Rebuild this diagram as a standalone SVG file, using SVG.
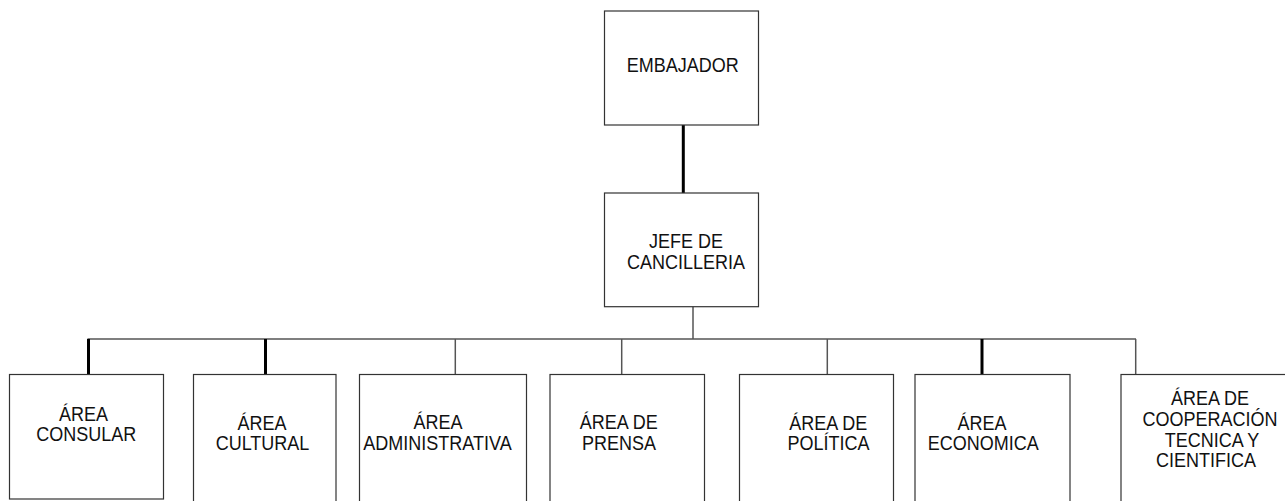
<svg xmlns="http://www.w3.org/2000/svg" width="1285" height="501" viewBox="0 0 1285 501">
<style>
.box{fill:#fff;stroke:#333;stroke-width:1.2}
.thin{stroke:#555;stroke-width:1.5;fill:none}
.thick{stroke:#000;stroke-width:3;fill:none}
text{font-family:"Liberation Sans",Arial,sans-serif;font-size:20px;fill:#111;text-anchor:middle}
</style>
<rect width="1285" height="501" fill="#fff"/>
<g id="connectors">
<line class="thick" x1="683.3" y1="125" x2="683.3" y2="193"/>
<line class="thin" x1="693" y1="301" x2="693" y2="339"/>
<line class="thin" x1="87.5" y1="339" x2="1136" y2="339"/>
<line class="thick" x1="88.5" y1="339" x2="88.5" y2="374.5"/>
<line class="thick" x1="265.5" y1="339" x2="265.5" y2="374.5"/>
<line class="thin" x1="455.3" y1="339" x2="455.3" y2="374.5"/>
<line class="thin" x1="621.7" y1="339" x2="621.7" y2="374.5"/>
<line class="thin" x1="827.3" y1="339" x2="827.3" y2="374.5"/>
<line class="thick" x1="982" y1="339" x2="982" y2="374.5"/>
<line class="thin" x1="1135.7" y1="339" x2="1135.7" y2="374.5"/>
</g>
<g id="embajador">
<rect class="box" x="604.5" y="11" width="154" height="114"/>
<text transform="translate(682.8,71.5) scale(0.9,1)">EMBAJADOR</text>
</g>
<g id="jefe">
<rect class="box" x="604.5" y="193" width="154" height="113.7"/>
<text transform="translate(686,248.3) scale(0.9,1)">JEFE DE</text>
<text transform="translate(686,268.8) scale(0.9,1)">CANCILLERIA</text>
</g>
<g id="consular">
<rect class="box" x="9.5" y="374.5" width="154" height="124.5"/>
<text transform="translate(83.5,420.5) scale(0.9,1)">ÁREA</text>
<text transform="translate(86.3,441) scale(0.9,1)">CONSULAR</text>
</g>
<g id="cultural">
<rect class="box" x="193.5" y="374.5" width="142.5" height="140"/>
<text transform="translate(262,430) scale(0.9,1)">ÁREA</text>
<text transform="translate(262.5,450) scale(0.9,1)">CULTURAL</text>
</g>
<g id="administrativa">
<rect class="box" x="359.5" y="374.5" width="167" height="140"/>
<text transform="translate(438,428.5) scale(0.9,1)">ÁREA</text>
<text transform="translate(437.5,450) scale(0.9,1)">ADMINISTRATIVA</text>
</g>
<g id="prensa">
<rect class="box" x="550" y="374.5" width="154.5" height="140"/>
<text transform="translate(618.8,428.5) scale(0.9,1)">ÁREA DE</text>
<text transform="translate(619,449.5) scale(0.9,1)">PRENSA</text>
</g>
<g id="politica">
<rect class="box" x="739.5" y="374.5" width="154" height="140"/>
<text transform="translate(828.3,430) scale(0.9,1)">ÁREA DE</text>
<text transform="translate(828.5,450) scale(0.9,1)">POLÍTICA</text>
</g>
<g id="economica">
<rect class="box" x="915" y="374.5" width="155" height="140"/>
<text transform="translate(982,430) scale(0.9,1)">ÁREA</text>
<text transform="translate(983.3,450) scale(0.9,1)">ECONOMICA</text>
</g>
<g id="cooperacion">
<rect class="box" x="1121" y="374.5" width="170" height="140"/>
<text transform="translate(1210,405) scale(0.9,1)">ÁREA DE</text>
<text transform="translate(1210,426) scale(0.9,1)">COOPERACIÓN</text>
<text transform="translate(1212,446.5) scale(0.9,1)">TECNICA Y</text>
<text transform="translate(1206,467) scale(0.9,1)">CIENTIFICA</text>
</g>
</svg>
